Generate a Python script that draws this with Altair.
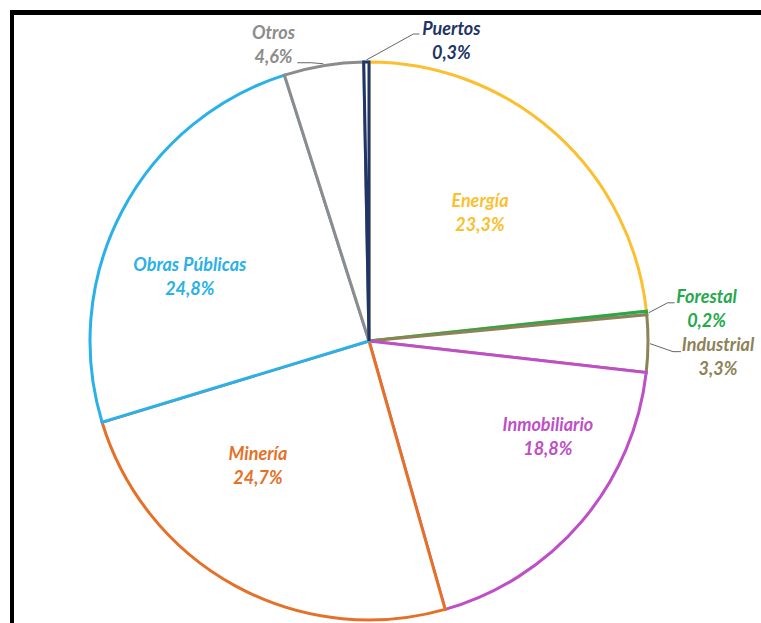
import math
import altair as alt
import pandas as pd

# ---- data ----
categories = ["Energía", "Forestal", "Industrial", "Inmobiliario", "Minería",
              "Obras Públicas", "Otros", "Puertos"]
values = [23.3, 0.2, 3.3, 18.8, 24.7, 24.8, 4.6, 0.3]
value_labels = ["23,3%", "0,2%", "3,3%", "18,8%", "24,7%", "24,8%", "4,6%", "0,3%"]
colors = ["#FBBF2F", "#25A94C", "#8E8258", "#BE4FC7", "#E57128", "#2AB1E9",
          "#8C8C8C", "#1E3566"]

df = pd.DataFrame({
    "cat": categories,
    "value": values,
    "label": [f"{c}\n{v}" for c, v in zip(categories, value_labels)],
    "idx": list(range(len(categories))),
})

# ---- layout (styling / positioning) ----
CX, CY, R = 369, 341, 279
LH = 24
label_layout = {  # radius, dx, dy (dy of first line)
    "Energía": (190, -16, 14),
    "Forestal": (280, 59, -3),
    "Industrial": (280, 69, 14),
    "Inmobiliario": (190, 34, -26),
    "Minería": (190, -20, -41),
    "Obras Públicas": (190, -11, 25),
    "Otros": (280, -50, -19),
    "Puertos": (280, 85, -19),
}
leader_layout = {  # elbow offset and end offset relative to arc point
    "Otros": [(-12, -1), (-26, -1)],
    "Puertos": [(47, -26), (53, -26)],
    "Forestal": [(19, -10), (26, -10)],
    "Industrial": [(23, 8), (31, 8)],
}

color_scale = alt.Scale(domain=categories, range=colors)
theta_scale = alt.Scale(domain=[0, 100])

pie = alt.Chart(df).mark_arc(radius=R, fill="white", strokeWidth=3, fillOpacity=1).encode(
    theta=alt.Theta("value:Q", stack=True, scale=theta_scale),
    stroke=alt.Stroke("cat:N", scale=color_scale, legend=None),
    order=alt.Order("idx:Q"),
    x=alt.value(CX),
    y=alt.value(CY),
)

# leader lines: start at arc mid-angle derived from data
total = sum(values)
cum = 0.0
rows = []
for c, v in zip(categories, values):
    mid = (cum + v / 2) / total * 2 * math.pi
    cum += v
    if c in leader_layout:
        px = CX + 281 * math.sin(mid)
        py = CY - 281 * math.cos(mid)
        pts = [(px, py)] + [(px + dx, py + dy) for dx, dy in leader_layout[c]]
        for k, (lx, ly) in enumerate(pts):
            rows.append({"cat": c, "k": k, "px": lx, "py": ly})
lead_df = pd.DataFrame(rows)

leaders = alt.Chart(lead_df).mark_line(color="#666666", strokeWidth=1).encode(
    x=alt.X("px:Q", scale=None, axis=None),
    y=alt.Y("py:Q", scale=None, axis=None),
    detail="cat:N",
    order="k:Q",
)

text_layers = []
for c in categories:
    r, dx, dy = label_layout[c]
    t = alt.Chart(df).transform_window(
        cum="sum(value)", sort=[alt.SortField("idx")], frame=[None, 0]
    ).transform_calculate(
        mid="datum.cum - datum.value / 2"
    ).transform_filter(
        alt.datum.cat == c
    ).mark_text(
        radius=r, dx=dx, dy=dy - LH / 2, font="Lato", fontSize=18, fontWeight="bold",
        fontStyle="italic", lineBreak="\n", lineHeight=LH, align="center",
        baseline="middle",
    ).encode(
        theta=alt.Theta("mid:Q", scale=theta_scale),
        text="label:N",
        color=alt.Color("cat:N", scale=color_scale, legend=None),
        x=alt.value(CX),
        y=alt.value(CY),
    )
    text_layers.append(t)

frame_top = alt.Chart(df).mark_rule(color="black", strokeWidth=4).encode(
    x=alt.value(10), x2=alt.value(761), y=alt.value(12.5)
)
frame_left = alt.Chart(df).mark_rule(color="black", strokeWidth=4).encode(
    x=alt.value(12), y=alt.value(10.5), y2=alt.value(623)
)

chart = alt.layer(pie, leaders, *text_layers, frame_top, frame_left).properties(
    width=761, height=623, autosize=alt.AutoSizeParams(type="none"), padding=0,
    background="white",
).configure_view(stroke=None)

chart.save("out.html", embed_options={"renderer": "svg", "actions": False})
